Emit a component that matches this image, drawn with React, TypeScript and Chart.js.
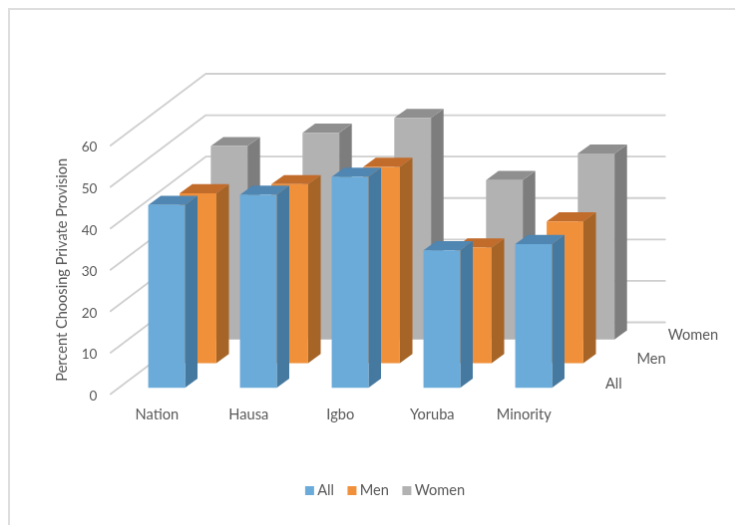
import React, { useEffect, useRef } from "react";
import { Chart, registerables } from "chart.js";

Chart.register(...registerables);

const categories = ["Nation", "Hausa", "Igbo", "Yoruba", "Minority"];
const seriesNames = ["All", "Men", "Women"];
const allValues = [44.1, 46.6, 50.9, 33.2, 34.7];
const menValues = [41.0, 43.2, 47.4, 27.9, 34.2];
const womenValues = [46.7, 49.9, 53.5, 38.5, 44.9];
const depthLabels = ["All", "Men", "Women"];

const FONT = "Lato, 'Open Sans', sans-serif";
const TEXT = "#595959";
const TEXT_SIZE = 14.6;

// Offset of each series row going back into the box, and the extent of one bar's depth.
const rowOffsets = [
  { x: 9.7, y: -6.3 },
  { x: 41.2, y: -31 },
  { x: 72.4, y: -54.7 },
];
const BAR_DEPTH = { x: 12.6, y: -9.2 };
const WALL = { x: 95.5, y: -72 };

const faces = [
  { front: "#6aabda", side: "#45799f", top: "#5086b2" },
  { front: "#f0903b", side: "#a66526", top: "#c26c2c" },
  { front: "#b2b2b2", side: "#7d7d7d", top: "#8f8f8f" },
];

function polygon(ctx: CanvasRenderingContext2D, fill: string, pts: number[][]) {
  ctx.beginPath();
  pts.forEach(([x, y], i) => (i ? ctx.lineTo(x, y) : ctx.moveTo(x, y)));
  ctx.closePath();
  ctx.fillStyle = fill;
  ctx.fill();
}

// Floor-to-wall gridlines running back from the value axis, then along the rear wall.
const boxGrid = {
  id: "boxGrid",
  beforeDatasetsDraw(chart: any) {
    const { ctx, chartArea, scales } = chart;
    ctx.save();
    ctx.strokeStyle = "#cfcfcf";
    ctx.lineWidth = 1.8;
    ctx.lineCap = "round";
    ctx.lineJoin = "round";
    for (const tick of scales.y.ticks) {
      const py = scales.y.getPixelForValue(tick.value);
      const x0 = chartArea.left - 0.5;
      ctx.beginPath();
      ctx.moveTo(x0, py);
      ctx.lineTo(x0 + WALL.x, py + WALL.y);
      ctx.lineTo(chartArea.right + WALL.x, py + WALL.y);
      ctx.stroke();
    }
    ctx.restore();
  },
  afterDatasetsDraw(chart: any) {
    const { ctx, chartArea, scales } = chart;
    const base = scales.y.getPixelForValue(0);
    ctx.save();
    ctx.font = `${TEXT_SIZE}px ${FONT}`;
    ctx.fillStyle = TEXT;
    ctx.textAlign = "left";
    ctx.textBaseline = "middle";
    depthLabels.forEach((label, i) => {
      ctx.fillText(label, chartArea.right + rowOffsets[i].x + 26, base + rowOffsets[i].y - 4.3);
    });
    ctx.restore();
  },
};

// Shifts each dataset to its row and adds the side and top faces of its bars.
const extrudedBars = {
  id: "extrudedBars",
  beforeDatasetDraw(chart: any, args: any) {
    const { ctx } = chart;
    const off = rowOffsets[args.index];
    const face = faces[args.index];
    ctx.save();
    ctx.translate(off.x, off.y);
    for (const bar of args.meta.data) {
      const l = bar.x - bar.width / 2;
      const r = bar.x + bar.width / 2;
      const t = bar.y;
      const b = bar.base;
      const dx = BAR_DEPTH.x;
      const dy = BAR_DEPTH.y;
      polygon(ctx, face.side, [[r, t], [r + dx, t + dy], [r + dx, b + dy], [r, b]]);
      polygon(ctx, face.top, [[l, t], [l + dx, t + dy], [r + dx, t + dy], [r, t]]);
    }
  },
  afterDatasetDraw(chart: any) {
    chart.ctx.restore();
  },
};

// Centres the legend under the whole frame rather than under the bar area.
const LEGEND_CENTER = 378;
const legendPlacement = {
  id: "legendPlacement",
  afterLayout(chart: any) {
    const legend = chart.legend;
    const shift = LEGEND_CENTER - (legend.left + legend.right) / 2;
    legend.left += shift;
    legend.right += shift;
  },
};

export default function App() {
  const ref = useRef<HTMLCanvasElement>(null);

  useEffect(() => {
    const makeDataset = (label: string, data: number[], i: number) => ({
      label,
      data,
      backgroundColor: faces[i].front,
      borderWidth: 0,
      clip: false as const,
    });
    const chart = new Chart(ref.current!, {
      type: "bar",
      data: {
        labels: categories,
        datasets: [
          makeDataset(seriesNames[0], allValues, 0),
          makeDataset(seriesNames[1], menValues, 1),
          makeDataset(seriesNames[2], womenValues, 2),
        ],
      },
      plugins: [boxGrid, extrudedBars, legendPlacement],
      options: {
        responsive: false,
        animation: false,
        layout: { padding: { left: 39.2, right: 171.7, top: 136, bottom: 17.25 } },
        datasets: { bar: { grouped: false, barPercentage: 0.4, categoryPercentage: 1 } },
        scales: {
          x: {
            offset: true,
            grid: { display: false, drawTicks: false },
            border: { display: false },
            ticks: {
              padding: 12.25,
              color: TEXT,
              font: { family: FONT, size: TEXT_SIZE },
              maxRotation: 0,
            },
            afterFit(scale: any) {
              scale.height = 72.15;
            },
          },
          y: {
            min: 0,
            max: 60,
            grid: { display: false, drawTicks: false },
            border: { display: false },
            title: {
              display: true,
              text: "Percent Choosing Private Provision",
              color: TEXT,
              font: { family: FONT, size: TEXT_SIZE },
            },
            ticks: {
              stepSize: 10,
              padding: 14,
              color: TEXT,
              // A blank first line with a short line height drops each number slightly.
              callback: (value: number) => ["", String(value)],
              font: { family: FONT, size: 13.5, lineHeight: "4px" },
            },
            afterFit(scale: any) {
              scale.width = 62.1;
            },
          },
        },
        plugins: {
          tooltip: { enabled: false },
          legend: {
            position: "bottom",
            labels: {
              usePointStyle: true,
              pointStyle: "rect",
              boxHeight: 9,
              boxWidth: 1,
              padding: 17.5,
              color: TEXT,
              font: { family: FONT, size: TEXT_SIZE },
            },
          },
        },
      },
    } as any);
    return () => chart.destroy();
  }, []);

  return (
    <canvas
      ref={ref}
      width={733}
      height={517}
      style={{
        display: "block",
        borderLeft: "2px solid #dedede",
        borderTop: "2px solid #dedede",
      }}
    />
  );
}
